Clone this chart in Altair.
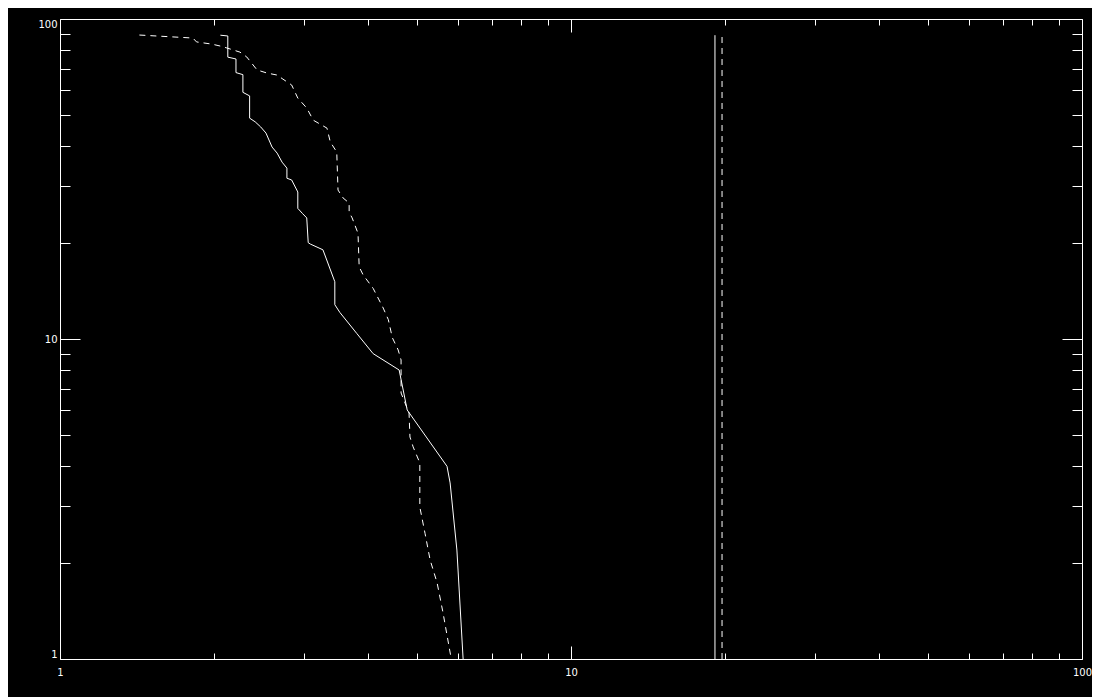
import altair as alt
import pandas as pd

# Solid cumulative curve (x, N)
solid_x = [2.06, 2.13, 2.13, 2.21, 2.21, 2.28, 2.28, 2.35, 2.35, 2.41, 2.47, 2.53, 2.60, 2.66,
           2.72, 2.78, 2.78, 2.84, 2.92, 2.92, 2.98, 3.04, 3.06, 3.09, 3.27, 3.45, 3.45, 3.53,
           3.81, 4.10, 4.61, 4.78, 5.72, 5.80, 5.98, 6.15]
solid_y = [89, 88.5, 76, 75, 68, 67, 59, 57.5, 49, 47.7, 46, 44, 39.8, 38.1,
           35.7, 34.2, 31.8, 31.4, 28.8, 25.6, 24.7, 23.9, 20, 19.8, 19, 15.1, 12.8, 12.1,
           10.4, 9.0, 8.0, 6.0, 4.0, 3.55, 2.19, 1.0]

# Dashed cumulative curve (x, N)
dashed_x = [1.43, 1.82, 1.85, 1.98, 2.06, 2.12, 2.25, 2.32, 2.43, 2.54, 2.66, 2.73, 2.84, 2.92,
            3.04, 3.13, 3.33, 3.38, 3.48, 3.50, 3.58, 3.68, 3.68, 3.73, 3.83, 3.85, 3.92, 4.10,
            4.29, 4.39, 4.47, 4.59, 4.65, 4.65, 4.82, 4.84, 4.91, 5.06, 5.06, 5.18, 5.30, 5.47,
            5.62, 5.83]
dashed_y = [89.1, 87.2, 84.8, 83.5, 82.3, 81.2, 78.8, 76.1, 69.3, 67.8, 66.8, 64.9, 62.2, 56.6,
            52.7, 48.3, 45.6, 41.3, 38.4, 29.2, 27.6, 26.6, 24.9, 23.9, 21.4, 16.8, 15.85, 14.4,
            12.5, 11.5, 10.1, 9.24, 8.6, 6.78, 5.87, 4.94, 4.6, 4.1, 2.985, 2.47, 2.04, 1.73,
            1.39, 1.0]

# Vertical reference lines
vline_solid_x = [19.13]
vline_dashed_x = [19.75]
vline_y = [1.0]
vline_y2 = [89.0]

major_ticks = [1, 10, 100]
minor_ticks = [2, 3, 4, 5, 6, 7, 8, 9, 20, 30, 40, 50, 60, 70, 80, 90]

solid_df = pd.DataFrame({"x": solid_x, "y": solid_y, "i": list(range(len(solid_x)))})
dashed_df = pd.DataFrame({"x": dashed_x, "y": dashed_y, "i": list(range(len(dashed_x)))})
vs_df = pd.DataFrame({"x": vline_solid_x, "y": vline_y, "y2": vline_y2})
vd_df = pd.DataFrame({"x": vline_dashed_x, "y": vline_y, "y2": vline_y2})

xscale = alt.Scale(type="log", domain=[1, 100], nice=False)
yscale = alt.Scale(type="log", domain=[1, 100], nice=False)

FONT = "DejaVu Sans"


def ax(orient, values, size, labels, flush=False, pad=3):
    kw = dict(orient=orient, values=values, tickSize=size, offset=-size, domain=False,
              grid=False, labels=labels, title=None, tickColor="white", tickWidth=1)
    if labels:
        kw.update(labelColor="white", labelFont=FONT, labelFontSize=10,
                  labelPadding=pad, labelFlush=flush)
    return alt.Axis(**kw)


solid = alt.Chart(solid_df).mark_line(color="white", strokeWidth=1).encode(
    x=alt.X("x:Q", scale=xscale, axis=ax("bottom", major_ticks, 13, True, False, 8)),
    y=alt.Y("y:Q", scale=yscale, axis=ax("left", major_ticks, 20, True, True, 3)),
    order=alt.Order("i:Q"),
)

dashed = alt.Chart(dashed_df).mark_line(color="white", strokeWidth=1, strokeDash=[6, 5]).encode(
    x=alt.X("x:Q", scale=xscale, axis=ax("bottom", minor_ticks, 6, False)),
    y=alt.Y("y:Q", scale=yscale, axis=ax("left", minor_ticks, 10, False)),
    order=alt.Order("i:Q"),
)

vsolid = alt.Chart(vs_df).mark_rule(color="white", strokeWidth=1).encode(
    x=alt.X("x:Q", scale=xscale, axis=ax("top", major_ticks, 13, False)),
    y=alt.Y("y:Q", scale=yscale, axis=ax("right", major_ticks, 20, False)),
    y2="y2:Q",
)

vdashed = alt.Chart(vd_df).mark_rule(color="white", strokeWidth=1, strokeDash=[6, 5]).encode(
    x=alt.X("x:Q", scale=xscale, axis=ax("top", minor_ticks, 6, False)),
    y=alt.Y("y:Q", scale=yscale, axis=ax("right", minor_ticks, 10, False)),
    y2="y2:Q",
)

chart = (
    alt.layer(solid, dashed, vsolid, vdashed)
    .resolve_axis(x="independent", y="independent")
    .properties(
        width=1022,
        height=640,
        autosize=alt.AutoSizeParams(type="none"),
        padding={"left": 52, "top": 11, "right": 10, "bottom": 38},
        background="black",
    )
    .configure_view(stroke="white", strokeWidth=1)
)

chart.save("out.html", embed_options={"renderer": "svg", "actions": False})
